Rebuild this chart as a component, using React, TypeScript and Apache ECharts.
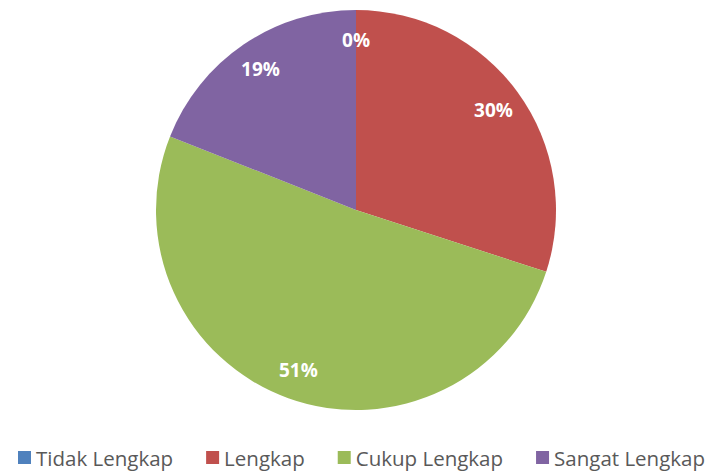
import React, { useEffect, useRef } from "react";
import * as echarts from "echarts";

const categories = ["Tidak Lengkap", "Lengkap", "Cukup Lengkap", "Sangat Lengkap"];
const values = [0, 30, 51, 19];
const colors = ["#4F81BD", "#C0504D", "#9BBB59", "#8064A2"];

export default function App() {
  const ref = useRef<HTMLDivElement>(null);
  useEffect(() => {
    const chart = echarts.init(ref.current!, null, { renderer: "svg" });
    const data = categories.map((name, i) => ({
      name,
      value: values[i],
      itemStyle: { color: colors[i] },
    }));
    const overlay = categories.map((name, i) => ({
      name,
      value: values[i],
      itemStyle: { color: "rgba(0,0,0,0)" },
    }));
    chart.setOption({
      animation: false,
      backgroundColor: "#ffffff",
      legend: {
        data: categories,
        bottom: 5,
        left: 18,
        width: 691,
        padding: 0,
        icon: "rect",
        itemWidth: 13,
        itemHeight: 13,
        itemGap: 33,
        textStyle: { color: "#595959", fontSize: 20.5, fontFamily: "Open Sans" },
      },
      series: [
        {
          type: "pie",
          center: [356, 210],
          radius: [0, 200],
          startAngle: 90,
          clockwise: true,
          label: { show: false },
          labelLine: { show: false },
          silent: true,
          data,
        },
        {
          type: "pie",
          center: [356, 210],
          radius: [134, 200],
          startAngle: 90,
          clockwise: true,
          silent: true,
          label: {
            show: true,
            position: "inside",
            formatter: "{c}%",
            color: "#ffffff",
            fontSize: 19,
            fontWeight: "bold",
            fontFamily: "Open Sans",
          },
          labelLine: { show: false },
          data: overlay,
        },
      ],
    });
    return () => chart.dispose();
  }, []);
  return <div ref={ref} style={{ width: 709, height: 473, position: "absolute", left: 0, top: 0 }} />;
}
